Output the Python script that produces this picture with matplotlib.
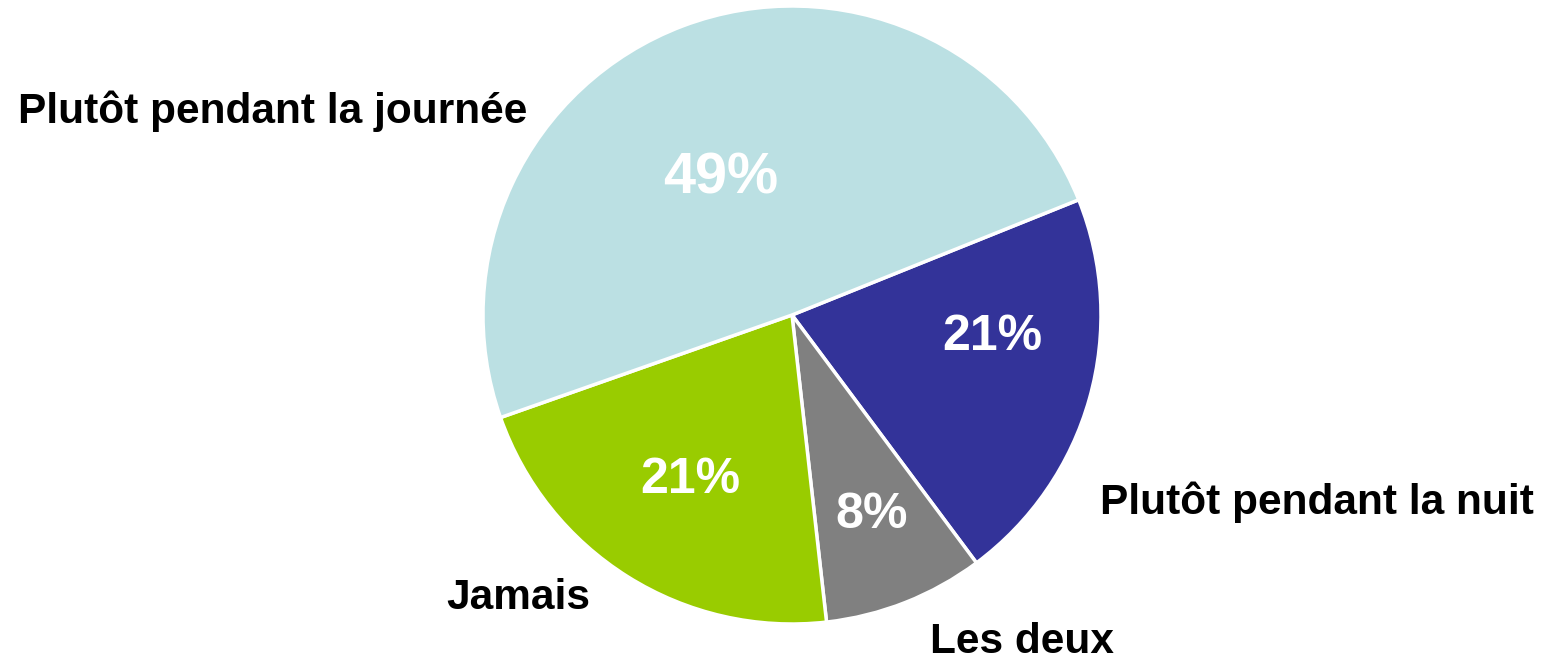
import matplotlib.pyplot as plt

plt.rcParams["font.family"] = ["Liberation Sans", "DejaVu Sans"]

# categories in clockwise order starting from the upper right boundary
categories = ['Plutôt pendant la nuit', 'Les deux', 'Jamais', 'Plutôt pendant la journée']
shares = [20.9, 8.4, 21.4, 49.3]
colors = ['#333399', '#808080', '#99CC00', '#BBE0E3']

W, H = 1541, 661
fig = plt.figure(figsize=(W / 100, H / 100), dpi=100)
ax = fig.add_axes([0, 0, 1, 1])
ax.set_xlim(0, W)
ax.set_ylim(0, H)
ax.set_aspect('equal')
ax.axis('off')

cx, cy, r = 792, H - 315, 309
wedges, texts, pcts = ax.pie(shares, colors=colors, startangle=21.9, counterclock=False,
                             center=(cx, cy), radius=r, autopct='%.0f%%',
                             wedgeprops={'edgecolor': 'white', 'linewidth': 2.5},
                             textprops={'color': 'white', 'fontsize': 36, 'fontweight': 'bold'})

# move percent labels to where the reference puts them
pct_pos = [(992, 337), (872, 515), (690, 480), (721, 178)]
for t, (x, y) in zip(pcts, pct_pos):
    t.set_position((x, H - y))
    t.set_ha('center')
    t.set_va('center')
pcts[3].set_fontsize(41.5)

label_pos = [(1100, 502, 'left'), (930, 642, 'left'), (590, 598, 'right'), (527, 111, 'right')]
for name, (x, y, ha) in zip(categories, label_pos):
    ax.text(x, H - y, name, ha=ha, va='center', fontsize=30.5, fontweight='bold', color='black')

ax.set_xlim(0, W)
ax.set_ylim(0, H)
plt.savefig('out.png', dpi=100)
